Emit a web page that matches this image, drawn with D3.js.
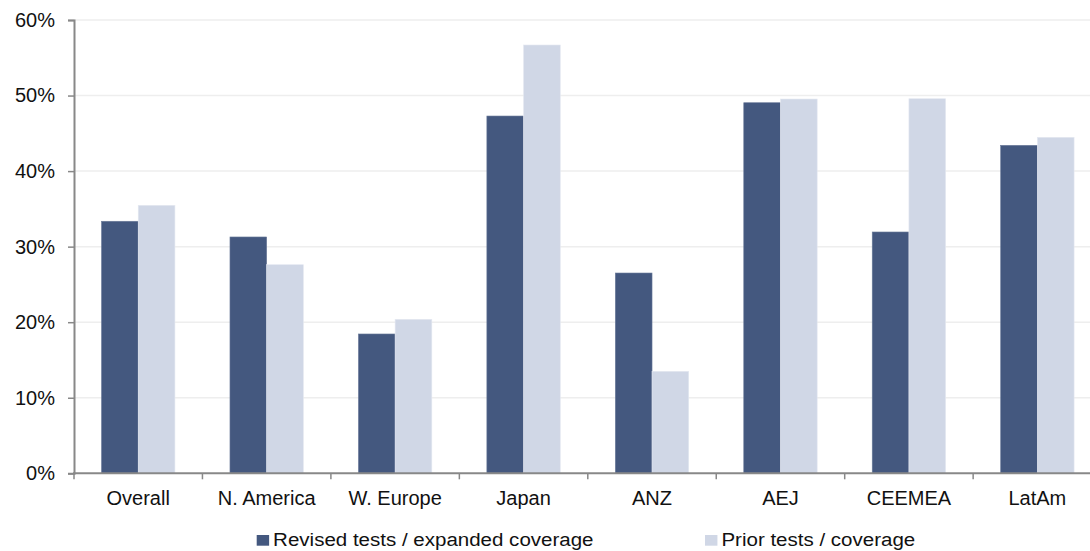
<!DOCTYPE html>
<html>
<head>
<meta charset="utf-8">
<script src="https://cdn.jsdelivr.net/npm/d3@7"></script>
<style>
  html, body { margin: 0; padding: 0; background: #ffffff; }
  svg { display: block; font-family: "Liberation Sans", Arial, sans-serif; }
</style>
</head>
<body>
<svg id="chart" width="1090" height="551"></svg>
<script>
// Regions along the x axis
const categories = ["Overall", "N. America", "W. Europe", "Japan", "ANZ", "AEJ", "CEEMEA", "LatAm"];
// Share per region for each test set (fractions)
const revised = [0.3336, 0.3128, 0.1844, 0.4729, 0.2651, 0.4905, 0.3194, 0.4341];
const prior   = [0.3547, 0.2761, 0.2038, 0.5669, 0.1350, 0.4954, 0.4958, 0.4447];
const seriesNames = ["Revised tests / expanded coverage", "Prior tests / coverage"];
const yTicks = [0, 0.1, 0.2, 0.3, 0.4, 0.5, 0.6];

const colors = ["#44587f", "#d0d7e6"];

const svg = d3.select("#chart");
const plotLeft = 74, plotRight = 1101.6, plotTop = 20, plotBottom = 473.3;
const fontSize = 20;

const x = d3.scaleBand().domain(categories).range([plotLeft, plotRight]).paddingInner(0).paddingOuter(0);
const inner = d3.scaleBand().domain([0, 1]).range([0, x.bandwidth()]).paddingInner(0).paddingOuter(0.75);
const y = d3.scaleLinear().domain([0, 0.6]).range([plotBottom, plotTop]);

// horizontal gridlines
svg.append("g")
  .selectAll("line")
  .data(yTicks.filter(d => d > 0))
  .join("line")
  .attr("x1", plotLeft).attr("x2", 1090)
  .attr("y1", d => y(d)).attr("y2", d => y(d))
  .attr("stroke", "#eeeeee")
  .attr("stroke-width", 1.5);

// bars
const groups = svg.append("g")
  .selectAll("g")
  .data(categories.map((c, i) => ({ c, vals: [revised[i], prior[i]] })))
  .join("g")
  .attr("transform", d => `translate(${x(d.c)},0)`);

groups.selectAll("rect")
  .data(d => d.vals.map((v, k) => ({ v, k })))
  .join("rect")
  .attr("x", d => inner(d.k))
  .attr("width", inner.bandwidth())
  .attr("y", d => y(d.v))
  .attr("height", d => y(0) - y(d.v))
  .attr("fill", d => colors[d.k])
  .attr("stroke", d => d.k === 0 ? "#6a7a99" : "#e4e8f1")
  .attr("stroke-width", 0.6);

// y axis
const yAxis = svg.append("g")
  .attr("transform", `translate(${plotLeft},0)`)
  .call(d3.axisLeft(y).tickValues(yTicks).tickFormat(d3.format(".0%")).tickSize(6).tickPadding(13));
yAxis.select(".domain").attr("stroke", "#888888").attr("stroke-width", 2);
yAxis.selectAll(".tick line").attr("stroke", "#888888").attr("stroke-width", 1.5);
yAxis.selectAll(".tick text")
  .attr("font-size", fontSize).attr("fill", "#111111")
  .attr("font-family", "Liberation Sans, Arial, sans-serif");

// x axis with ticks at band boundaries
const xAxis = svg.append("g").attr("transform", `translate(0,${plotBottom})`);
xAxis.append("line")
  .attr("x1", plotLeft - 1).attr("x2", 1090)
  .attr("y1", 0).attr("y2", 0)
  .attr("stroke", "#888888").attr("stroke-width", 2);
xAxis.selectAll("line.tk")
  .data(categories)
  .join("line")
  .attr("class", "tk")
  .attr("x1", d => x(d)).attr("x2", d => x(d))
  .attr("y1", 0).attr("y2", 6)
  .attr("stroke", "#888888").attr("stroke-width", 1.5);
xAxis.selectAll("text")
  .data(categories)
  .join("text")
  .attr("x", d => x(d) + x.bandwidth() / 2)
  .attr("y", 31.7)
  .attr("text-anchor", "middle")
  .attr("font-size", fontSize)
  .attr("fill", "#111111")
  .text(d => d);

// legend (slightly widened lettering)
const legendX = [256.7, 705];
const legend = svg.append("g")
  .selectAll("g")
  .data(seriesNames)
  .join("g")
  .attr("transform", (d, i) => `translate(${legendX[i]},535) scale(1.08,1)`);
legend.append("rect")
  .attr("width", 11.5).attr("height", 10.7)
  .attr("fill", (d, i) => colors[i]);
legend.append("text")
  .attr("x", 15.2).attr("y", 10.7)
  .attr("font-size", 19)
  .attr("fill", "#111111")
  .text(d => d);
</script>
</body>
</html>
